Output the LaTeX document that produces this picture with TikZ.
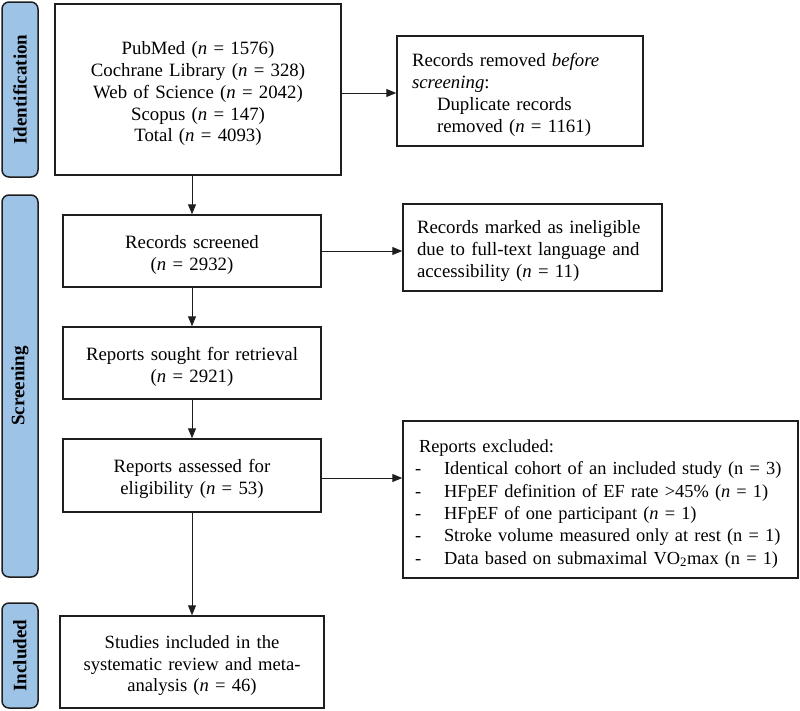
\documentclass[tikz,border=0pt]{standalone}
\usepackage{fontspec}
\setmainfont{Liberation Serif}
\usetikzlibrary{arrows.meta}
\definecolor{sideblue}{RGB}{157,195,230}
\definecolor{edge}{RGB}{30,30,30}
\newcommand{\tp}[1]{\rule{0pt}{#1}}
\begin{document}
\begin{tikzpicture}[x=1pt,y=-1pt,
 box/.style={draw=edge, line width=1.5pt, inner ysep=0pt, font=\fontsize{18.8}{22}\selectfont},
 side/.style={draw=edge, line width=1.5pt, rounded corners=7pt, fill=sideblue, inner sep=0pt, minimum height=36pt, font=\fontsize{19}{22}\selectfont\bfseries, rotate=90},
 arr/.style={-{Triangle[length=10pt,width=8pt]}, line width=1pt, draw=edge, fill=edge}
]
\useasboundingbox (0,0) rectangle (800,710);
\fill[white] (0,0) rectangle (800,710);

% phase labels
\node[side, minimum width=175pt] (lid) at (20,89.5) {Identification};
\node[side, minimum width=382pt] (lsc) at (20,386) {Screening};
\node[side, minimum width=105pt] (lin) at (20,655.5) {Included};

% main column
\node[box, align=center, inner xsep=10pt, text width=266pt, minimum height=171pt, font=\fontsize{18.8}{21.8}\selectfont] (top) at (198,89.5)
 {\tp{21.5pt}PubMed (\emph{n} = 1576)\\Cochrane Library (\emph{n} = 328)\\Web of Science (\emph{n} = 2042)\\Scopus (\emph{n} = 147)\\Total (\emph{n} = 4093)};

\node[box, align=center, inner xsep=10pt, text width=238pt, minimum height=72pt] (scr) at (192,251)
 {\tp{21pt}Records screened\\(\emph{n} = 2932)};

\node[box, align=center, inner xsep=10pt, text width=238pt, minimum height=72pt] (sought) at (192,363)
 {\tp{21pt}Reports sought for retrieval\\(\emph{n} = 2921)};

\node[box, align=center, inner xsep=10pt, text width=238pt, minimum height=73pt] (ass) at (192,475.5)
 {\tp{21pt}Reports assessed for\\eligibility (\emph{n} = 53)};

\node[box, align=center, inner xsep=10pt, text width=244pt, minimum height=92pt, font=\fontsize{18.6}{21.6}\selectfont] (inc) at (192,662)
 {\tp{20.5pt}Studies included in the\\systematic review and meta-\\analysis (\emph{n} = 46)};

% side column
\node[box, align=left, inner xsep=15pt, text width=216pt, minimum height=110pt] (rem) at (520,91)
 {\tp{20.5pt}Records removed \emph{before}\\\emph{screening}:\\\hspace*{25pt}Duplicate records\\\hspace*{25pt}removed (\emph{n} = 1161)};

\node[box, align=left, inner xsep=14pt, text width=231pt, minimum height=87pt] (inel) at (532.5,247.5)
 {\tp{20.5pt}Records marked as ineligible\\due to full-text language and\\accessibility (\emph{n} = 11)};

\node[box, align=left, inner xsep=12pt, text width=371pt, minimum height=157pt, font=\fontsize{18.4}{22.4}\selectfont] (excl) at (600.5,499.5)
 {\tp{21.5pt}\hspace*{4pt}Reports excluded:\\
 \makebox[29pt][l]{-}Identical cohort of an included study (n = 3)\\
 \makebox[29pt][l]{-}HFpEF definition of EF rate >45\% (\emph{n} = 1)\\
 \makebox[29pt][l]{-}HFpEF of one participant (\emph{n} = 1)\\
 \makebox[29pt][l]{-}Stroke volume measured only at rest (n = 1)\\
 \makebox[29pt][l]{-}Data based on submaximal VO\textsubscript{2}max (n = 1)};

% connectors
\draw[arr] (top.east |- rem.west) ++(0,2) coordinate (a1) (top.east |- a1) -- (rem.west |- a1);
\draw[arr] (scr.north |- top.south) -- (scr.north);
\draw[arr] (scr.east) -- (scr.east -| inel.west);
\draw[arr] (scr.south) -- (sought.north);
\draw[arr] (sought.south) -- (ass.north);
\draw[arr] (ass.east) ++(0,2.5) coordinate (a2) (ass.east |- a2) -- (excl.west |- a2);
\draw[arr] (ass.south) -- (inc.north);
\end{tikzpicture}
\end{document}
